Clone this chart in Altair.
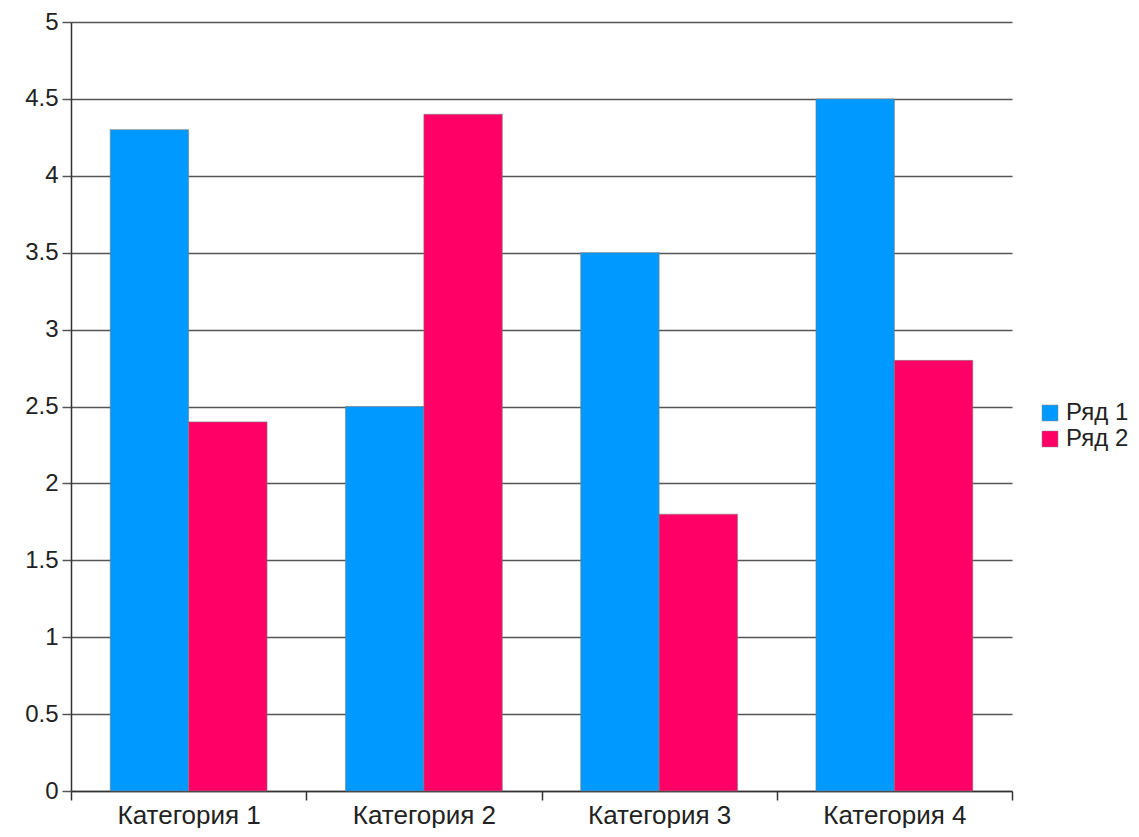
import altair as alt
import pandas as pd

categories = ["Категория 1", "Категория 2", "Категория 3", "Категория 4"]
series = ["Ряд 1", "Ряд 2"]
values_1 = [4.3, 2.5, 3.5, 4.5]
values_2 = [2.4, 4.4, 1.8, 2.8]
colors = ["#0099FF", "#FF0066"]

rows = []
for c, a, b in zip(categories, values_1, values_2):
    rows.append({"cat": c, "series": series[0], "value": a})
    rows.append({"cat": c, "series": series[1], "value": b})
df = pd.DataFrame(rows)

font = "Liberation Sans"

chart = alt.Chart(df).mark_bar(stroke="#7f7f7f", strokeWidth=0.6).encode(
    x=alt.X("cat:N", sort=categories, title=None,
            scale=alt.Scale(paddingInner=0, paddingOuter=0),
            axis=alt.Axis(labelAngle=0, tickBand="extent", domainColor="#333333",
                          tickColor="#333333", tickSize=9, domainWidth=1.5, tickWidth=1.5,
                          labelFont=font, labelFontSize=26, labelColor="#222222",
                          labelPadding=2, grid=False)),
    xOffset=alt.XOffset("series:N", sort=series,
                        scale=alt.Scale(paddingInner=0, paddingOuter=0.5)),
    y=alt.Y("value:Q", title=None,
            scale=alt.Scale(domain=[0, 5], nice=False),
            axis=alt.Axis(values=[0, 0.5, 1, 1.5, 2, 2.5, 3, 3.5, 4, 4.5, 5],
                          format="~g", grid=True, gridColor="#555555", gridWidth=1.5,
                          tickColor="#555555", tickSize=9, tickWidth=1.5,
                          domainColor="#333333", domainWidth=1.5,
                          labelFont=font, labelFontSize=24, labelColor="#222222",
                          labelPadding=4)),
    color=alt.Color("series:N", sort=series,
                    scale=alt.Scale(domain=series, range=colors),
                    legend=alt.Legend(title=None, symbolType="square", symbolSize=256,
                                      symbolStrokeWidth=0.5, symbolStrokeColor="#888888",
                                      labelFont=font, labelFontSize=24, labelColor="#222222",
                                      rowPadding=2, labelOffset=4, orient="none",
                                      legendX=967, legendY=379)),
).properties(
    width=941, height=769,
    padding={"left": 16, "top": 2, "right": 0, "bottom": 0},
).configure_view(stroke=None).configure_axis(gridCap="butt")

chart.save("out.html", embed_options={"renderer": "svg", "actions": False})
